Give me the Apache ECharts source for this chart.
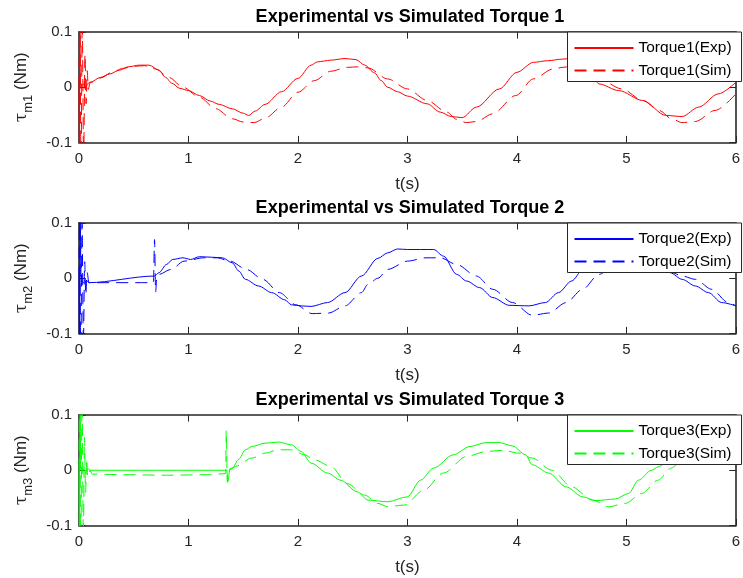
<!DOCTYPE html>
<html>
<head>
<meta charset="utf-8">
<script src="https://cdn.jsdelivr.net/npm/echarts@6/dist/echarts.min.js"></script>
<style>
  html, body { margin: 0; padding: 0; background: #ffffff; }
  #chart { width: 743px; height: 578px; }
</style>
</head>
<body>
<div id="chart"></div>
<script>
// Axis ticks shared by all three panels
const timeTicks = [0, 1, 2, 3, 4, 5, 6];
const torqueTicks = [-0.1, 0, 0.1];

// Joint 1 torque (Nm) against time (s)
const torque1ExpT = [0, 0.004, 0.008, 0.012, 0.03, 0.045, 0.058, 0.07, 0.1, 0.2, 0.28, 0.37, 0.45, 0.55, 0.64, 0.73, 0.79, 0.85, 0.92, 1.0, 1.1, 1.2, 1.28, 1.4, 1.5, 1.55, 1.61, 1.7, 1.85, 2.0, 2.12, 2.18, 2.3, 2.43, 2.53, 2.61, 2.7, 2.76, 2.82, 2.91, 3.0, 3.18, 3.3, 3.4, 3.5, 3.63, 3.84, 4.0, 4.15, 4.28, 4.42, 4.5, 4.6, 4.68, 4.75, 4.93, 5.15, 5.36, 5.51, 5.66, 5.84, 6.0];
const torque1ExpV = [0, -0.11, 0.11, -0.002, 0.004, 0.006, -0.004, 0.005, 0.009, 0.018, 0.024, 0.031, 0.037, 0.040, 0.040, 0.031, 0.018, 0.007, -0.002, -0.006, -0.015, -0.025, -0.031, -0.039, -0.047, -0.051, -0.043, -0.031, -0.008, 0.016, 0.040, 0.046, 0.049, 0.052, 0.050, 0.040, 0.026, 0.012, 0.000, -0.008, -0.016, -0.030, -0.045, -0.053, -0.055, -0.036, -0.003, 0.027, 0.045, 0.048, 0.051, 0.052, 0.042, 0.025, 0.006, -0.006, -0.024, -0.051, -0.053, -0.036, -0.012, 0.009];
const torque1SimT = [0, 0.008, 0.018, 0.03, 0.042, 0.055, 0.065, 0.075, 0.085, 0.1, 0.2, 0.3, 0.4, 0.5, 0.6, 0.7, 0.82, 0.95, 1.1, 1.25, 1.4, 1.5, 1.6, 1.7, 1.85, 2.0, 2.15, 2.3, 2.45, 2.55, 2.64, 2.82, 3.0, 3.18, 3.36, 3.45, 3.54, 3.63, 3.78, 3.99, 4.15, 4.33, 4.42, 4.5, 4.6, 4.75, 4.96, 5.15, 5.3, 5.42, 5.51, 5.63, 5.81, 6.0];
const torque1SimV = [0, 0.15, -0.15, 0.12, -0.13, 0.06, -0.03, 0.03, -0.004, 0.008, 0.017, 0.027, 0.034, 0.038, 0.039, 0.033, 0.018, 0.000, -0.018, -0.039, -0.057, -0.063, -0.064, -0.056, -0.036, -0.009, 0.012, 0.029, 0.036, 0.037, 0.035, 0.015, -0.003, -0.024, -0.045, -0.058, -0.064, -0.062, -0.048, -0.015, 0.015, 0.033, 0.036, 0.038, 0.035, 0.015, -0.003, -0.024, -0.042, -0.058, -0.064, -0.062, -0.042, -0.012];

// Joint 2 torque (Nm) against time (s)
const torque2ExpT = [0, 0.004, 0.01, 0.02, 0.03, 0.05, 0.07, 0.09, 0.69, 0.73, 0.8, 0.855, 0.95, 1.02, 1.1, 1.22, 1.31, 1.4, 1.46, 1.52, 1.64, 1.76, 1.88, 1.94, 2.03, 2.12, 2.27, 2.43, 2.58, 2.73, 2.82, 2.91, 3.0, 3.12, 3.24, 3.33, 3.45, 3.54, 3.66, 3.78, 3.93, 4.11, 4.26, 4.38, 4.5, 4.6, 4.75, 4.9, 5.05, 5.2, 5.32, 5.4, 5.51, 5.63, 5.75, 5.87, 6.0];
const torque2ExpV = [0, -0.12, 0.12, -0.01, -0.006, -0.01, -0.004, -0.008, 0.004, 0.010, 0.025, 0.034, 0.037, 0.034, 0.039, 0.038, 0.037, 0.028, 0.013, -0.002, -0.014, -0.026, -0.039, -0.048, -0.050, -0.051, -0.044, -0.026, 0.004, 0.036, 0.046, 0.053, 0.052, 0.052, 0.052, 0.040, 0.007, -0.005, -0.017, -0.035, -0.049, -0.050, -0.044, -0.026, -0.005, 0.015, 0.040, 0.052, 0.053, 0.050, 0.035, 0.010, -0.002, -0.014, -0.026, -0.044, -0.050];
const torque2SimT = [0, 0.006, 0.016, 0.028, 0.04, 0.052, 0.062, 0.075, 0.09, 0.68, 0.69, 0.7, 0.71, 0.73, 0.84, 0.96, 1.14, 1.26, 1.38, 1.53, 1.68, 1.83, 1.98, 2.13, 2.28, 2.43, 2.58, 2.64, 2.73, 2.82, 3.0, 3.17, 3.3, 3.45, 3.63, 3.78, 3.96, 4.14, 4.29, 4.45, 4.6, 4.75, 4.9, 5.05, 5.2, 5.32, 5.42, 5.51, 5.63, 5.78, 5.93, 6.0];
const torque2SimV = [0, 0.15, -0.15, 0.1, -0.12, 0.03, -0.03, 0.01, -0.008, -0.008, 0.07, -0.025, 0.0, 0.007, 0.016, 0.031, 0.037, 0.037, 0.031, 0.016, -0.002, -0.026, -0.048, -0.064, -0.063, -0.050, -0.026, -0.011, 0.000, 0.016, 0.031, 0.037, 0.037, 0.025, 0.004, -0.020, -0.044, -0.067, -0.063, -0.044, -0.020, 0.007, 0.025, 0.035, 0.037, 0.025, 0.010, 0.004, -0.002, -0.020, -0.044, -0.050];

// Joint 3 torque (Nm) against time (s)
const torque3ExpT = [0, 0.004, 0.01, 0.016, 0.04, 0.06, 0.08, 0.1, 1.35, 1.36, 1.38, 1.4, 1.46, 1.52, 1.58, 1.7, 1.82, 1.94, 2.03, 2.12, 2.27, 2.39, 2.54, 2.64, 2.82, 3.0, 3.12, 3.24, 3.42, 3.57, 3.72, 3.84, 3.96, 4.08, 4.14, 4.29, 4.45, 4.6, 4.72, 4.9, 5.02, 5.11, 5.23, 5.29, 5.4, 5.5];
const torque3ExpV = [0, -0.12, 0.12, 0.0, 0.002, -0.004, 0.003, 0.0, 0.0, -0.02, 0.003, 0.004, 0.020, 0.037, 0.043, 0.049, 0.051, 0.046, 0.034, 0.013, -0.005, -0.018, -0.039, -0.054, -0.057, -0.048, -0.018, 0.004, 0.028, 0.043, 0.050, 0.050, 0.044, 0.028, 0.010, -0.005, -0.030, -0.048, -0.055, -0.052, -0.042, -0.018, 0.000, 0.006, 0.020, 0.035];
const torque3SimT = [0, 0.006, 0.016, 0.028, 0.04, 0.05, 0.06, 0.07, 0.08, 0.1, 0.12, 0.4, 0.8, 1.2, 1.34, 1.345, 1.355, 1.37, 1.43, 1.58, 1.7, 1.82, 1.94, 2.06, 2.15, 2.3, 2.45, 2.61, 2.73, 2.82, 2.97, 3.15, 3.33, 3.54, 3.72, 3.87, 4.02, 4.14, 4.32, 4.5, 4.69, 4.84, 4.99, 5.14, 5.29, 5.41, 5.5];
const torque3SimV = [0, 0.15, -0.15, 0.12, -0.12, 0.06, -0.04, 0.02, -0.012, 0.0, -0.007, -0.008, -0.009, -0.008, -0.006, 0.072, -0.022, 0.0, 0.007, 0.022, 0.031, 0.037, 0.037, 0.028, 0.019, 0.007, -0.024, -0.045, -0.060, -0.066, -0.063, -0.036, -0.005, 0.025, 0.034, 0.036, 0.031, 0.022, 0.000, -0.030, -0.054, -0.066, -0.060, -0.042, -0.018, 0.004, 0.020];

const panels = [
  { idx: 1, color: '#ff0000', expT: torque1ExpT, expV: torque1ExpV, simT: torque1SimT, simV: torque1SimV, top: 32 },
  { idx: 2, color: '#0000ff', expT: torque2ExpT, expV: torque2ExpV, simT: torque2SimT, simV: torque2SimV, top: 223 },
  { idx: 3, color: '#00ff00', expT: torque3ExpT, expV: torque3ExpV, simT: torque3SimT, simV: torque3SimV, top: 415 }
];

const AX = '#262626';
const FONT = "'Liberation Sans', Arial, sans-serif";
const GRID_LEFT = 79, GRID_W = 662, GRID_H = 110.5;
const dash = () => [12, 7];

const pairs = (t, v) => t.map((x, i) => [x, v[i]]);
const fmtTorque = v => (Math.abs(v) < 1e-9 ? '0' : String(Math.round(v * 10) / 10));

const option = {
  animation: false,
  backgroundColor: '#ffffff',
  title: [], legend: [], grid: [], xAxis: [], yAxis: [], series: []
};

panels.forEach((p, i) => {
  option.grid.push({ left: GRID_LEFT, top: p.top, width: GRID_W, height: GRID_H, containLabel: false });

  option.title.push({
    text: 'Experimental vs Simulated Torque ' + p.idx,
    left: GRID_LEFT + GRID_W / 2, top: p.top - 24, textAlign: 'center', padding: 0,
    textStyle: { fontFamily: FONT, fontSize: 18, fontWeight: 'bold', color: '#000000' }
  });

  const tickCommon = { inside: true, length: 6.6, lineStyle: { color: AX, width: 1 } };
  const lineCommon = { show: true, onZero: false, lineStyle: { color: AX, width: 1.6 } };

  // bottom time axis with labels and name
  option.xAxis.push({
    type: 'value', gridIndex: i, position: 'bottom', min: timeTicks[0], max: timeTicks[timeTicks.length - 1], interval: 1,
    axisLine: lineCommon, axisTick: tickCommon, splitLine: { show: false },
    axisLabel: { margin: 9, color: AX, fontFamily: FONT, fontSize: 15 },
    name: 't(s)', nameLocation: 'middle', nameGap: 33,
    nameTextStyle: { fontFamily: FONT, fontSize: 17, color: AX }
  });
  // top edge of the box, ticks only
  option.xAxis.push({
    type: 'value', gridIndex: i, position: 'top', min: timeTicks[0], max: timeTicks[timeTicks.length - 1], interval: 1,
    axisLine: lineCommon, axisTick: tickCommon, axisLabel: { show: false }, splitLine: { show: false }
  });
  // left torque axis
  option.yAxis.push({
    type: 'value', gridIndex: i, position: 'left', min: torqueTicks[0], max: torqueTicks[torqueTicks.length - 1], interval: 0.1,
    axisLine: lineCommon, axisTick: tickCommon, splitLine: { show: false },
    axisLabel: { margin: 7, color: AX, fontFamily: FONT, fontSize: 15, formatter: fmtTorque },
    name: '{tau|τ}{sub|m' + p.idx + '}{txt| (Nm)}', nameLocation: 'middle', nameGap: 35, nameRotate: 90,
    nameTextStyle: {
      color: AX, fontFamily: FONT, fontSize: 17,
      rich: {
        tau: { fontFamily: "'DejaVu Serif', serif", fontSize: 17, color: AX, lineHeight: 18, verticalAlign: 'top' },
        sub: { fontFamily: FONT, fontSize: 13, color: AX, padding: [9, 0, 0, 0], lineHeight: 13, verticalAlign: 'top' },
        txt: { fontFamily: FONT, fontSize: 17, color: AX, lineHeight: 18, verticalAlign: 'top' }
      }
    }
  });
  // right edge of the box, ticks only
  option.yAxis.push({
    type: 'value', gridIndex: i, position: 'right', min: torqueTicks[0], max: torqueTicks[torqueTicks.length - 1], interval: 0.1,
    axisLine: lineCommon, axisTick: tickCommon, axisLabel: { show: false }, splitLine: { show: false }
  });

  const expName = 'Torque' + p.idx + '(Exp)';
  const simName = 'Torque' + p.idx + '(Sim)';

  option.series.push({
    name: expName, type: 'line', xAxisIndex: i * 2, yAxisIndex: i * 2,
    data: pairs(p.expT, p.expV), symbol: 'none', clip: true, z: 2,
    smooth: 0.3, smoothMonotone: 'x',
    color: p.color, itemStyle: { color: p.color },
    lineStyle: { color: p.color, width: 1, type: 'solid' }
  });
  option.series.push({
    name: simName, type: 'line', xAxisIndex: i * 2, yAxisIndex: i * 2,
    data: pairs(p.simT, p.simV), symbol: 'none', clip: true, z: 2,
    smooth: 0.3, smoothMonotone: 'x',
    color: p.color, itemStyle: { color: p.color },
    lineStyle: { color: p.color, width: 1, type: dash() }
  });

  // legend keys show only the line sample (marker made fully transparent)
  option.legend.push({
    data: [expName, simName], orient: 'vertical', left: 567.5, top: p.top,
    backgroundColor: '#ffffff', borderColor: AX, borderWidth: 1, padding: [8, 10, 3, 6],
    itemWidth: 59, itemHeight: 14, itemGap: 6.5, selectedMode: false, z: 10,
    itemStyle: { color: 'rgba(0,0,0,0)', borderColor: 'rgba(0,0,0,0)', borderWidth: 0 },
    textStyle: { fontFamily: FONT, fontSize: 15.5, color: '#000000', lineHeight: 16 }
  });
});

const chart = echarts.init(document.getElementById('chart'), null, { renderer: 'canvas' });
chart.setOption(option);
</script>
</body>
</html>
